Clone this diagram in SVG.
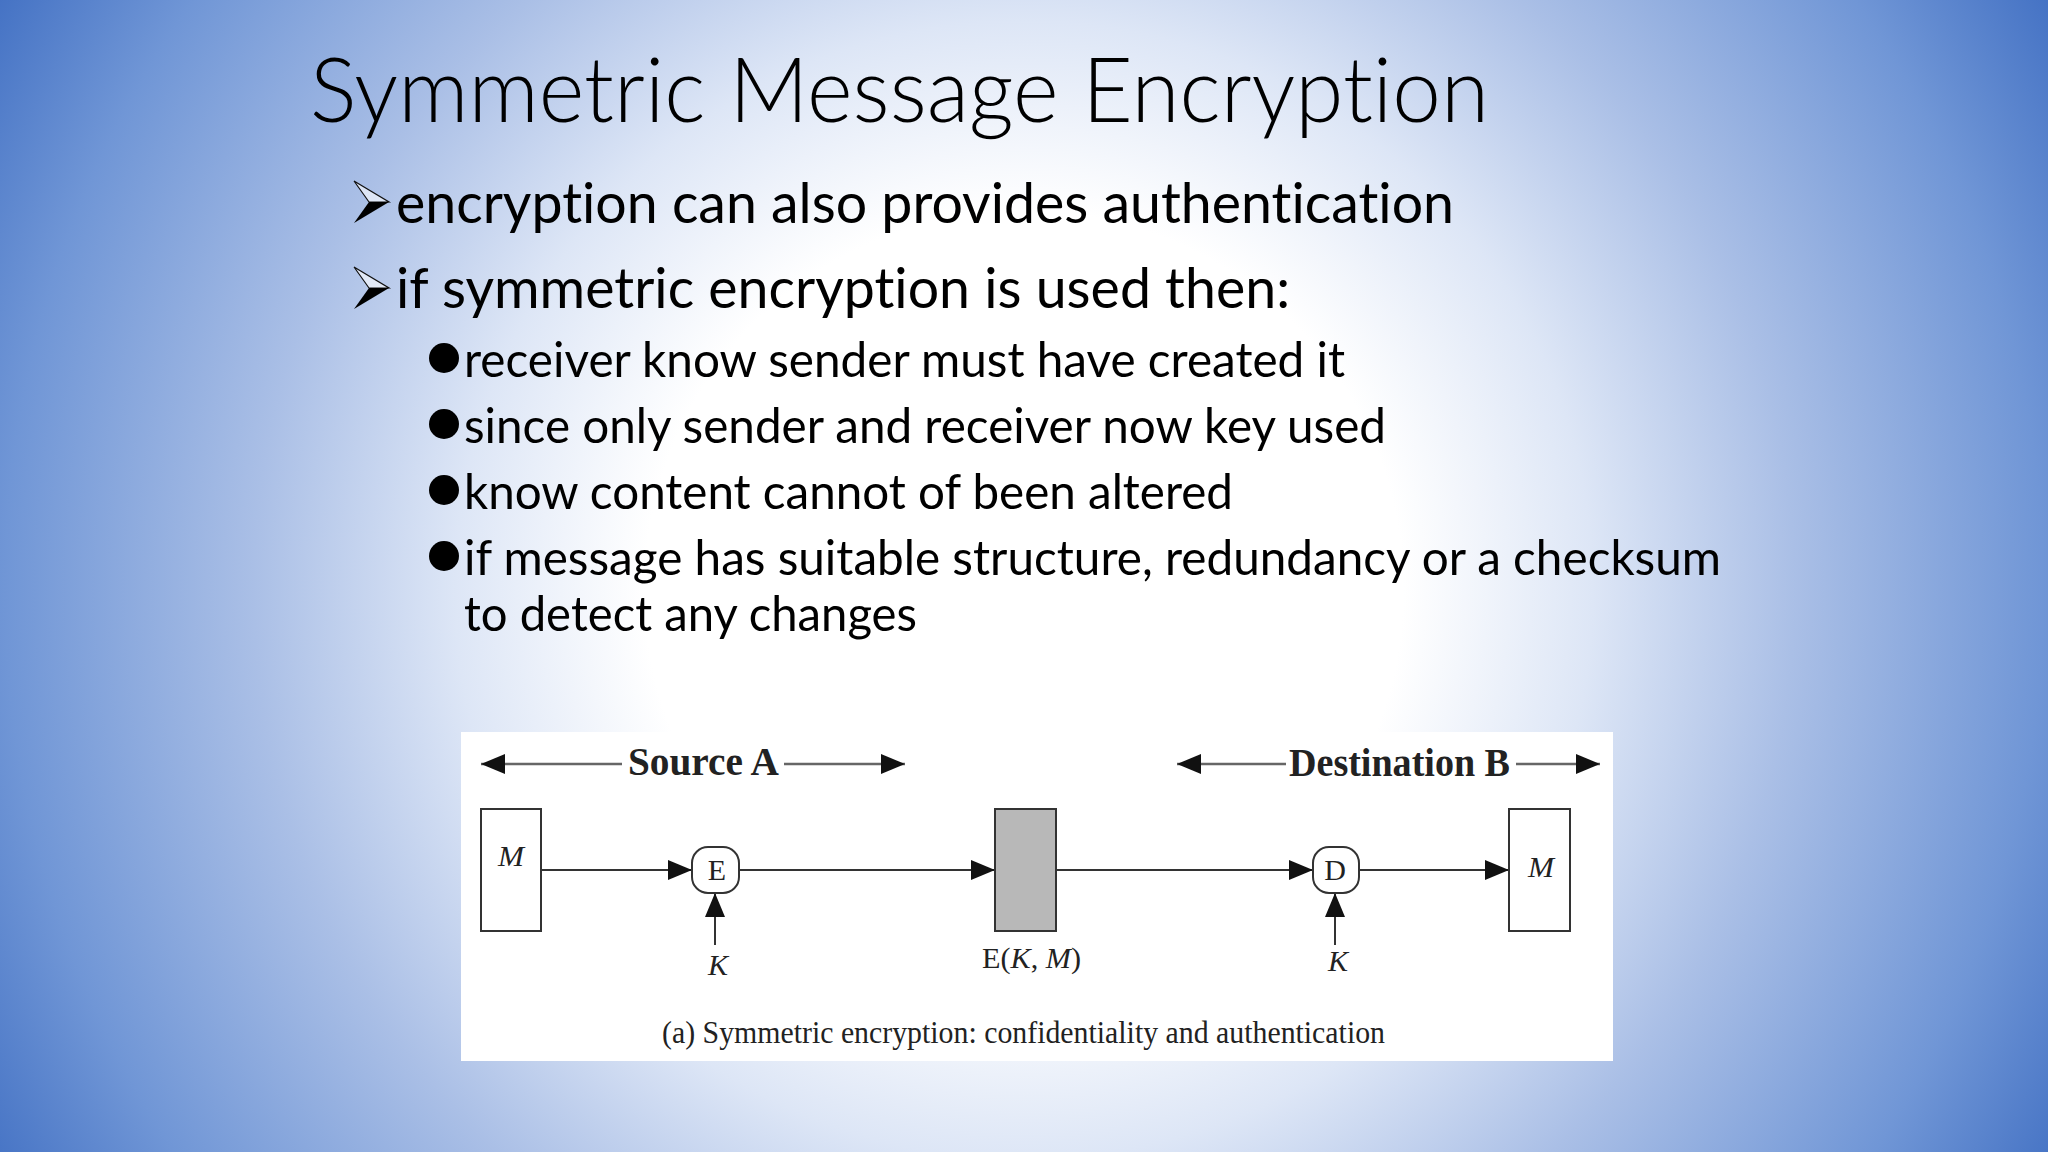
<svg xmlns="http://www.w3.org/2000/svg" width="2048" height="1152" viewBox="0 0 2048 1152">
<defs>
<radialGradient id="bg" gradientUnits="userSpaceOnUse" cx="1024" cy="590" r="1185">
<stop offset="0" stop-color="#ffffff"/><stop offset="0.32" stop-color="#ffffff"/><stop offset="0.48" stop-color="#dde6f6"/><stop offset="0.65" stop-color="#aabfe6"/><stop offset="0.86" stop-color="#7096d6"/><stop offset="1" stop-color="#4472c4"/>
</radialGradient>
<marker id="ah" viewBox="0 0 24 20" refX="24" refY="10" markerWidth="24" markerHeight="20" markerUnits="userSpaceOnUse" orient="auto-start-reverse"><path d="M0 0L24 10L0 20Z" fill="#111"/></marker>
<g id="arrowBullet"><path d="M0 0L35 21L15 21Z" fill="#fff" fill-opacity="0.6" stroke="#111" stroke-width="1.2"/><path d="M0 42L35 21L15 21Z" fill="#000"/></g>
</defs>
<style>
.t{font-family:Lato,"Liberation Sans",sans-serif;fill:#000;font-variant-ligatures:none}
.title{font-size:90px;font-weight:300}
.l1{font-size:57px}
.l2{font-size:49px}
.s{font-family:"Liberation Serif",serif;fill:#222}
.i{font-style:italic}
.box{stroke:#333;stroke-width:2;fill:#fff}
.ln{stroke:#333;stroke-width:2;fill:none;marker-end:url(#ah)}
.hd{stroke:#666;stroke-width:2.5;fill:none;marker-end:url(#ah)}
</style>
<rect width="2048" height="1152" fill="url(#bg)"/>
<text class="t title" x="310" y="122" textLength="1179" lengthAdjust="spacingAndGlyphs">Symmetric Message Encryption</text>
<use href="#arrowBullet" x="354" y="181"/>
<use href="#arrowBullet" x="354" y="267"/>
<text class="t l1" x="396" y="223" textLength="1058" lengthAdjust="spacingAndGlyphs">encryption can also provides authentication</text>
<text class="t l1" x="396" y="308" textLength="894" lengthAdjust="spacingAndGlyphs">if symmetric encryption is used then:</text>
<circle cx="444" cy="358" r="15"/><circle cx="444" cy="424" r="15"/><circle cx="444" cy="490" r="15"/><circle cx="444" cy="556" r="15"/>
<text class="t l2" x="464" y="377" textLength="881" lengthAdjust="spacingAndGlyphs">receiver know sender must have created it</text>
<text class="t l2" x="464" y="443" textLength="922" lengthAdjust="spacingAndGlyphs">since only sender and receiver now key used</text>
<text class="t l2" x="464" y="509" textLength="769" lengthAdjust="spacingAndGlyphs">know content cannot of been altered</text>
<text class="t l2" x="464" y="575" textLength="1257" lengthAdjust="spacingAndGlyphs">if message has suitable structure, redundancy or a checksum</text>
<text class="t l2" x="464" y="631" textLength="453" lengthAdjust="spacingAndGlyphs">to detect any changes</text>
<rect x="461" y="732" width="1152" height="329" fill="#fff"/>
<g id="connectors">
<path class="hd" d="M622 764H481"/><path class="hd" d="M784 764H905"/>
<path class="hd" d="M1286 764H1177"/><path class="hd" d="M1516 764H1600"/>
<path class="ln" d="M541 870H692"/><path class="ln" d="M739 870H995"/>
<path class="ln" d="M1056 870H1313"/><path class="ln" d="M1358 870H1509"/>
<path class="ln" d="M715 945V893"/><path class="ln" d="M1335 945V893"/>
</g>
<g id="label-source"><text class="s" x="628" y="775" font-size="41" font-weight="bold" textLength="151" lengthAdjust="spacingAndGlyphs">Source A</text></g>
<g id="label-destination"><text class="s" x="1289" y="776" font-size="41" font-weight="bold" textLength="221" lengthAdjust="spacingAndGlyphs">Destination B</text></g>
<g id="node-m-source"><rect class="box" x="481" y="809" width="60" height="122"/><text class="s i" x="498" y="866" font-size="30" textLength="26" lengthAdjust="spacingAndGlyphs">M</text></g>
<g id="node-e"><rect class="box" x="692" y="847" width="47" height="46" rx="16"/><text class="s" x="717" y="880" font-size="30" text-anchor="middle">E</text></g>
<g id="node-k1"><text class="s i" x="718" y="975" font-size="30" text-anchor="middle">K</text></g>
<g id="node-cipher"><rect class="box" x="995" y="809" width="61" height="122" style="fill:#b8b8b8"/><text class="s" x="982" y="968" font-size="30" textLength="99" lengthAdjust="spacingAndGlyphs">E(<tspan class="i">K</tspan>, <tspan class="i">M</tspan>)</text></g>
<g id="node-d"><rect class="box" x="1313" y="847" width="46" height="46" rx="16"/><text class="s" x="1335" y="880" font-size="30" text-anchor="middle">D</text></g>
<g id="node-k2"><text class="s i" x="1338" y="971" font-size="30" text-anchor="middle">K</text></g>
<g id="node-m-dest"><rect class="box" x="1509" y="809" width="61" height="122"/><text class="s i" x="1541" y="877" font-size="30" text-anchor="middle" textLength="26" lengthAdjust="spacingAndGlyphs">M</text></g>
<g id="caption"><text class="s" x="662" y="1043" font-size="31" textLength="723" lengthAdjust="spacingAndGlyphs">(a) Symmetric encryption: confidentiality and authentication</text></g>
</svg>
